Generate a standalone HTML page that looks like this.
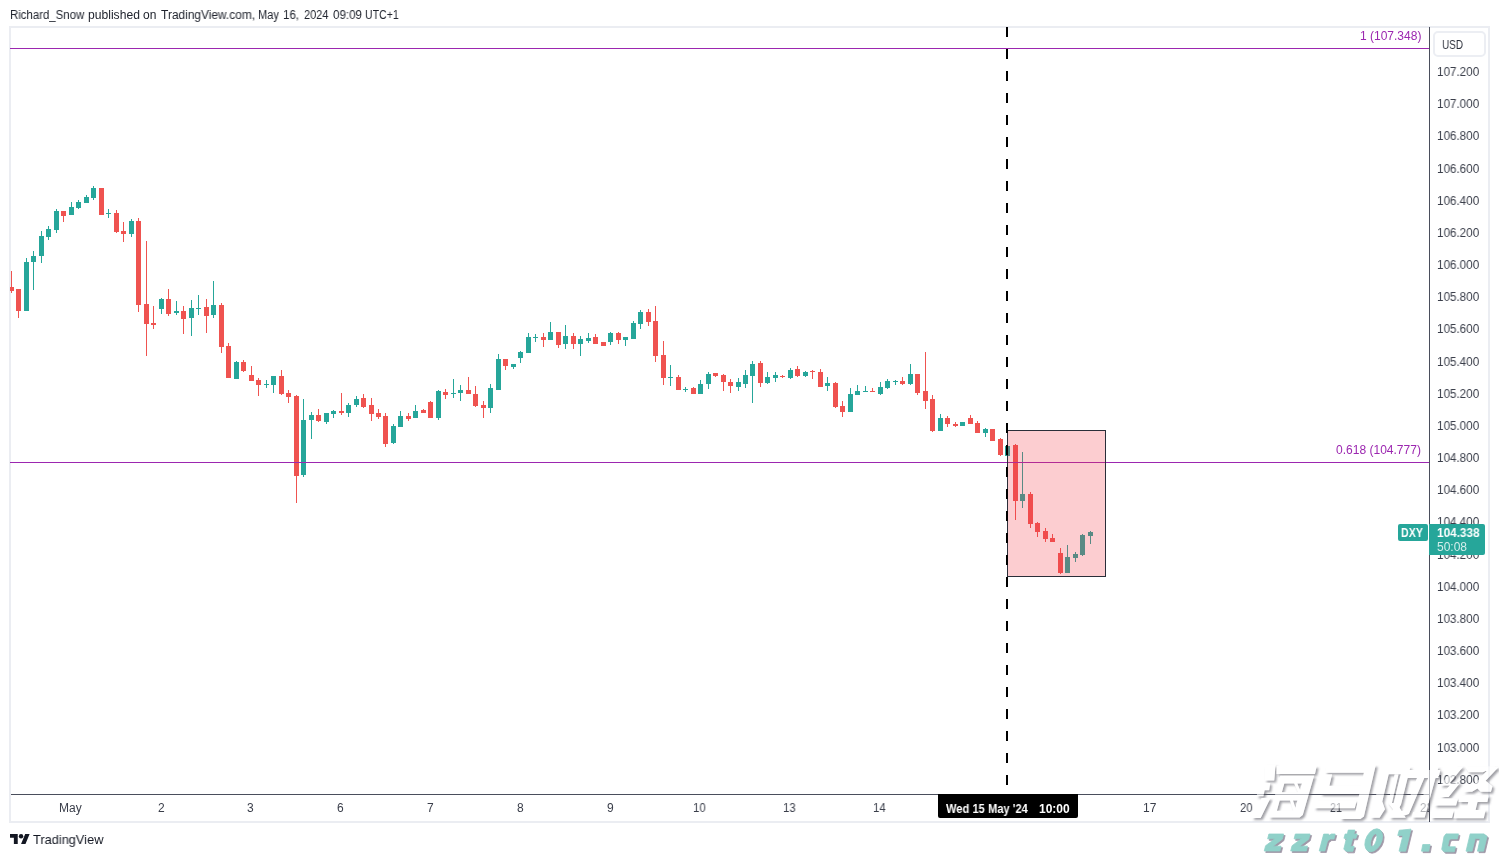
<!DOCTYPE html>
<html><head><meta charset="utf-8"><title>DXY chart</title>
<style>
html,body{margin:0;padding:0;background:#fff;}
body{width:1499px;height:857px;position:relative;overflow:hidden;font-family:"Liberation Sans",sans-serif;font-size:12px;color:#131722;}
.abs{position:absolute;}
.t{position:absolute;height:16px;line-height:16px;white-space:pre;transform-origin:0 0;will-change:transform;}
#frame{position:absolute;left:9px;top:26px;width:1477px;height:793px;border:2px solid #ebedf2;box-sizing:content-box;}
#svg{position:absolute;left:0;top:0;}
#usd{position:absolute;left:1433px;top:31px;width:48.5px;height:22px;border:2px solid #eceef3;border-radius:5px;background:#fff;}
#dxy{position:absolute;left:1398px;top:524px;width:30px;height:17px;background:#26a69a;border-radius:2px;}
#plab{position:absolute;left:1429px;top:524px;width:56px;height:31px;background:#26a69a;border-radius:0 2px 2px 0;}

.wz{position:absolute;font-size:33px;font-weight:bold;font-style:italic;line-height:40px;height:40px;color:#90d1c9;text-shadow:1.2px 1.2px 0.6px rgba(90,90,90,0.75);transform-origin:0 0;will-change:transform;white-space:pre;}
#tlab{position:absolute;left:938px;top:794px;width:140px;height:24px;background:#000;border-radius:0 0 2px 2px;}
</style></head><body>
<div id="frame"></div>
<svg id="svg" width="1499" height="857" viewBox="0 0 1499 857" shape-rendering="crispEdges">
<rect x="11" y="271" width="1" height="22" fill="#ef5350"/>
<rect x="10" y="287" width="4" height="4" fill="#ef5350"/>
<rect x="18" y="289" width="1" height="29" fill="#ef5350"/>
<rect x="16" y="289" width="5" height="22" fill="#ef5350"/>
<rect x="26" y="258" width="1" height="53" fill="#26a69a"/>
<rect x="24" y="262" width="5" height="49" fill="#26a69a"/>
<rect x="33" y="251" width="1" height="39" fill="#26a69a"/>
<rect x="31" y="256" width="5" height="6" fill="#26a69a"/>
<rect x="41" y="231" width="1" height="32" fill="#26a69a"/>
<rect x="39" y="236" width="5" height="20" fill="#26a69a"/>
<rect x="48" y="226" width="1" height="14" fill="#26a69a"/>
<rect x="46" y="229" width="5" height="8" fill="#26a69a"/>
<rect x="56" y="209" width="1" height="24" fill="#26a69a"/>
<rect x="54" y="211" width="5" height="19" fill="#26a69a"/>
<rect x="63" y="211" width="1" height="11" fill="#ef5350"/>
<rect x="61" y="211" width="5" height="5" fill="#ef5350"/>
<rect x="71" y="202" width="1" height="13" fill="#26a69a"/>
<rect x="69" y="207" width="5" height="8" fill="#26a69a"/>
<rect x="78" y="200" width="1" height="9" fill="#26a69a"/>
<rect x="76" y="202" width="5" height="6" fill="#26a69a"/>
<rect x="86" y="195" width="1" height="8" fill="#26a69a"/>
<rect x="84" y="197" width="5" height="6" fill="#26a69a"/>
<rect x="93" y="186" width="1" height="14" fill="#26a69a"/>
<rect x="91" y="188" width="5" height="10" fill="#26a69a"/>
<rect x="101" y="188" width="1" height="27" fill="#ef5350"/>
<rect x="99" y="188" width="5" height="27" fill="#ef5350"/>
<rect x="108" y="209" width="1" height="9" fill="#26a69a"/>
<rect x="106" y="213" width="5" height="1" fill="#26a69a"/>
<rect x="116" y="210" width="1" height="23" fill="#ef5350"/>
<rect x="114" y="213" width="5" height="19" fill="#ef5350"/>
<rect x="123" y="222" width="1" height="20" fill="#ef5350"/>
<rect x="121" y="231" width="5" height="3" fill="#ef5350"/>
<rect x="131" y="219" width="1" height="18" fill="#26a69a"/>
<rect x="129" y="221" width="5" height="13" fill="#26a69a"/>
<rect x="138" y="218" width="1" height="94" fill="#ef5350"/>
<rect x="136" y="221" width="5" height="84" fill="#ef5350"/>
<rect x="146" y="241" width="1" height="115" fill="#ef5350"/>
<rect x="144" y="304" width="5" height="20" fill="#ef5350"/>
<rect x="153" y="306" width="1" height="23" fill="#ef5350"/>
<rect x="151" y="323" width="5" height="2" fill="#ef5350"/>
<rect x="161" y="298" width="1" height="16" fill="#26a69a"/>
<rect x="159" y="299" width="5" height="10" fill="#26a69a"/>
<rect x="168" y="289" width="1" height="27" fill="#ef5350"/>
<rect x="166" y="299" width="5" height="15" fill="#ef5350"/>
<rect x="176" y="301" width="1" height="14" fill="#26a69a"/>
<rect x="174" y="311" width="5" height="2" fill="#26a69a"/>
<rect x="183" y="306" width="1" height="28" fill="#ef5350"/>
<rect x="181" y="311" width="5" height="8" fill="#ef5350"/>
<rect x="191" y="300" width="1" height="36" fill="#26a69a"/>
<rect x="189" y="308" width="5" height="10" fill="#26a69a"/>
<rect x="198" y="295" width="1" height="20" fill="#26a69a"/>
<rect x="196" y="308" width="5" height="1" fill="#26a69a"/>
<rect x="206" y="299" width="1" height="34" fill="#ef5350"/>
<rect x="204" y="307" width="5" height="9" fill="#ef5350"/>
<rect x="213" y="281" width="1" height="37" fill="#26a69a"/>
<rect x="211" y="305" width="5" height="10" fill="#26a69a"/>
<rect x="221" y="303" width="1" height="50" fill="#ef5350"/>
<rect x="219" y="305" width="5" height="42" fill="#ef5350"/>
<rect x="228" y="343" width="1" height="35" fill="#ef5350"/>
<rect x="226" y="346" width="5" height="32" fill="#ef5350"/>
<rect x="236" y="361" width="1" height="18" fill="#26a69a"/>
<rect x="234" y="362" width="5" height="17" fill="#26a69a"/>
<rect x="243" y="360" width="1" height="12" fill="#ef5350"/>
<rect x="241" y="362" width="5" height="9" fill="#ef5350"/>
<rect x="251" y="366" width="1" height="15" fill="#ef5350"/>
<rect x="249" y="375" width="5" height="6" fill="#ef5350"/>
<rect x="258" y="378" width="1" height="18" fill="#ef5350"/>
<rect x="256" y="380" width="5" height="5" fill="#ef5350"/>
<rect x="266" y="380" width="1" height="8" fill="#26a69a"/>
<rect x="264" y="384" width="5" height="1" fill="#26a69a"/>
<rect x="273" y="376" width="1" height="17" fill="#26a69a"/>
<rect x="271" y="376" width="5" height="9" fill="#26a69a"/>
<rect x="281" y="370" width="1" height="25" fill="#ef5350"/>
<rect x="279" y="376" width="5" height="18" fill="#ef5350"/>
<rect x="288" y="390" width="1" height="13" fill="#ef5350"/>
<rect x="286" y="393" width="5" height="4" fill="#ef5350"/>
<rect x="296" y="395" width="1" height="108" fill="#ef5350"/>
<rect x="294" y="396" width="5" height="80" fill="#ef5350"/>
<rect x="303" y="399" width="1" height="78" fill="#26a69a"/>
<rect x="301" y="420" width="5" height="55" fill="#26a69a"/>
<rect x="311" y="412" width="1" height="27" fill="#26a69a"/>
<rect x="309" y="415" width="5" height="5" fill="#26a69a"/>
<rect x="318" y="409" width="1" height="13" fill="#ef5350"/>
<rect x="316" y="415" width="5" height="6" fill="#ef5350"/>
<rect x="326" y="413" width="1" height="11" fill="#26a69a"/>
<rect x="324" y="413" width="5" height="9" fill="#26a69a"/>
<rect x="333" y="410" width="1" height="8" fill="#26a69a"/>
<rect x="331" y="411" width="5" height="3" fill="#26a69a"/>
<rect x="341" y="393" width="1" height="22" fill="#ef5350"/>
<rect x="339" y="411" width="5" height="2" fill="#ef5350"/>
<rect x="348" y="403" width="1" height="14" fill="#26a69a"/>
<rect x="346" y="405" width="5" height="8" fill="#26a69a"/>
<rect x="356" y="396" width="1" height="11" fill="#26a69a"/>
<rect x="354" y="399" width="5" height="6" fill="#26a69a"/>
<rect x="363" y="394" width="1" height="14" fill="#ef5350"/>
<rect x="361" y="398" width="5" height="9" fill="#ef5350"/>
<rect x="371" y="398" width="1" height="23" fill="#ef5350"/>
<rect x="369" y="405" width="5" height="9" fill="#ef5350"/>
<rect x="378" y="409" width="1" height="10" fill="#ef5350"/>
<rect x="376" y="413" width="5" height="4" fill="#ef5350"/>
<rect x="385" y="413" width="1" height="34" fill="#ef5350"/>
<rect x="383" y="416" width="5" height="28" fill="#ef5350"/>
<rect x="393" y="424" width="1" height="20" fill="#26a69a"/>
<rect x="391" y="426" width="5" height="17" fill="#26a69a"/>
<rect x="400" y="411" width="1" height="16" fill="#26a69a"/>
<rect x="398" y="416" width="5" height="11" fill="#26a69a"/>
<rect x="408" y="413" width="1" height="8" fill="#ef5350"/>
<rect x="406" y="416" width="5" height="3" fill="#ef5350"/>
<rect x="415" y="405" width="1" height="13" fill="#26a69a"/>
<rect x="413" y="411" width="5" height="7" fill="#26a69a"/>
<rect x="423" y="409" width="1" height="4" fill="#ef5350"/>
<rect x="421" y="410" width="5" height="3" fill="#ef5350"/>
<rect x="430" y="401" width="1" height="17" fill="#ef5350"/>
<rect x="428" y="402" width="5" height="16" fill="#ef5350"/>
<rect x="438" y="390" width="1" height="30" fill="#26a69a"/>
<rect x="436" y="391" width="5" height="27" fill="#26a69a"/>
<rect x="445" y="389" width="1" height="10" fill="#ef5350"/>
<rect x="443" y="392" width="5" height="3" fill="#ef5350"/>
<rect x="453" y="379" width="1" height="19" fill="#26a69a"/>
<rect x="451" y="393" width="5" height="1" fill="#26a69a"/>
<rect x="460" y="385" width="1" height="16" fill="#26a69a"/>
<rect x="458" y="390" width="5" height="3" fill="#26a69a"/>
<rect x="468" y="377" width="1" height="17" fill="#ef5350"/>
<rect x="466" y="390" width="5" height="4" fill="#ef5350"/>
<rect x="475" y="386" width="1" height="21" fill="#ef5350"/>
<rect x="473" y="394" width="5" height="12" fill="#ef5350"/>
<rect x="483" y="401" width="1" height="17" fill="#ef5350"/>
<rect x="481" y="405" width="5" height="3" fill="#ef5350"/>
<rect x="490" y="384" width="1" height="29" fill="#26a69a"/>
<rect x="488" y="388" width="5" height="20" fill="#26a69a"/>
<rect x="498" y="354" width="1" height="36" fill="#26a69a"/>
<rect x="496" y="359" width="5" height="31" fill="#26a69a"/>
<rect x="505" y="359" width="1" height="11" fill="#ef5350"/>
<rect x="503" y="359" width="5" height="7" fill="#ef5350"/>
<rect x="513" y="364" width="1" height="5" fill="#26a69a"/>
<rect x="511" y="364" width="5" height="3" fill="#26a69a"/>
<rect x="520" y="351" width="1" height="12" fill="#26a69a"/>
<rect x="518" y="352" width="5" height="6" fill="#26a69a"/>
<rect x="528" y="333" width="1" height="20" fill="#26a69a"/>
<rect x="526" y="337" width="5" height="16" fill="#26a69a"/>
<rect x="535" y="334" width="1" height="8" fill="#26a69a"/>
<rect x="533" y="337" width="5" height="1" fill="#26a69a"/>
<rect x="543" y="333" width="1" height="14" fill="#ef5350"/>
<rect x="541" y="337" width="5" height="3" fill="#ef5350"/>
<rect x="550" y="322" width="1" height="18" fill="#26a69a"/>
<rect x="548" y="332" width="5" height="8" fill="#26a69a"/>
<rect x="558" y="332" width="1" height="16" fill="#ef5350"/>
<rect x="556" y="332" width="5" height="13" fill="#ef5350"/>
<rect x="565" y="325" width="1" height="24" fill="#26a69a"/>
<rect x="563" y="336" width="5" height="8" fill="#26a69a"/>
<rect x="573" y="333" width="1" height="16" fill="#ef5350"/>
<rect x="571" y="336" width="5" height="8" fill="#ef5350"/>
<rect x="580" y="336" width="1" height="20" fill="#26a69a"/>
<rect x="578" y="339" width="5" height="5" fill="#26a69a"/>
<rect x="588" y="333" width="1" height="10" fill="#26a69a"/>
<rect x="586" y="338" width="5" height="3" fill="#26a69a"/>
<rect x="595" y="334" width="1" height="10" fill="#ef5350"/>
<rect x="593" y="337" width="5" height="7" fill="#ef5350"/>
<rect x="603" y="342" width="1" height="4" fill="#ef5350"/>
<rect x="601" y="342" width="5" height="4" fill="#ef5350"/>
<rect x="610" y="332" width="1" height="13" fill="#26a69a"/>
<rect x="608" y="333" width="5" height="9" fill="#26a69a"/>
<rect x="618" y="332" width="1" height="12" fill="#ef5350"/>
<rect x="616" y="333" width="5" height="7" fill="#ef5350"/>
<rect x="625" y="337" width="1" height="9" fill="#26a69a"/>
<rect x="623" y="337" width="5" height="3" fill="#26a69a"/>
<rect x="633" y="321" width="1" height="18" fill="#26a69a"/>
<rect x="631" y="323" width="5" height="16" fill="#26a69a"/>
<rect x="640" y="310" width="1" height="19" fill="#26a69a"/>
<rect x="638" y="312" width="5" height="12" fill="#26a69a"/>
<rect x="648" y="309" width="1" height="17" fill="#ef5350"/>
<rect x="646" y="312" width="5" height="10" fill="#ef5350"/>
<rect x="655" y="306" width="1" height="56" fill="#ef5350"/>
<rect x="653" y="321" width="5" height="35" fill="#ef5350"/>
<rect x="663" y="341" width="1" height="44" fill="#ef5350"/>
<rect x="661" y="355" width="5" height="23" fill="#ef5350"/>
<rect x="670" y="365" width="1" height="21" fill="#26a69a"/>
<rect x="668" y="377" width="5" height="1" fill="#26a69a"/>
<rect x="678" y="375" width="1" height="15" fill="#ef5350"/>
<rect x="676" y="377" width="5" height="13" fill="#ef5350"/>
<rect x="685" y="387" width="1" height="5" fill="#26a69a"/>
<rect x="683" y="389" width="5" height="1" fill="#26a69a"/>
<rect x="693" y="387" width="1" height="7" fill="#ef5350"/>
<rect x="691" y="388" width="5" height="6" fill="#ef5350"/>
<rect x="700" y="380" width="1" height="14" fill="#26a69a"/>
<rect x="698" y="384" width="5" height="10" fill="#26a69a"/>
<rect x="708" y="372" width="1" height="17" fill="#26a69a"/>
<rect x="706" y="374" width="5" height="10" fill="#26a69a"/>
<rect x="715" y="373" width="1" height="4" fill="#ef5350"/>
<rect x="713" y="373" width="5" height="3" fill="#ef5350"/>
<rect x="723" y="374" width="1" height="17" fill="#ef5350"/>
<rect x="721" y="375" width="5" height="7" fill="#ef5350"/>
<rect x="730" y="379" width="1" height="14" fill="#ef5350"/>
<rect x="728" y="382" width="5" height="4" fill="#ef5350"/>
<rect x="738" y="378" width="1" height="13" fill="#26a69a"/>
<rect x="736" y="382" width="5" height="5" fill="#26a69a"/>
<rect x="745" y="370" width="1" height="18" fill="#26a69a"/>
<rect x="743" y="375" width="5" height="9" fill="#26a69a"/>
<rect x="752" y="361" width="1" height="42" fill="#26a69a"/>
<rect x="750" y="364" width="5" height="12" fill="#26a69a"/>
<rect x="760" y="361" width="1" height="26" fill="#ef5350"/>
<rect x="758" y="363" width="5" height="20" fill="#ef5350"/>
<rect x="767" y="372" width="1" height="12" fill="#26a69a"/>
<rect x="765" y="377" width="5" height="6" fill="#26a69a"/>
<rect x="775" y="372" width="1" height="10" fill="#26a69a"/>
<rect x="773" y="375" width="5" height="3" fill="#26a69a"/>
<rect x="782" y="375" width="1" height="3" fill="#ef5350"/>
<rect x="780" y="376" width="5" height="1" fill="#ef5350"/>
<rect x="790" y="368" width="1" height="11" fill="#26a69a"/>
<rect x="788" y="370" width="5" height="8" fill="#26a69a"/>
<rect x="797" y="366" width="1" height="11" fill="#ef5350"/>
<rect x="795" y="369" width="5" height="7" fill="#ef5350"/>
<rect x="805" y="371" width="1" height="6" fill="#26a69a"/>
<rect x="803" y="372" width="5" height="4" fill="#26a69a"/>
<rect x="812" y="370" width="1" height="9" fill="#ef5350"/>
<rect x="810" y="371" width="5" height="1" fill="#ef5350"/>
<rect x="820" y="369" width="1" height="18" fill="#ef5350"/>
<rect x="818" y="372" width="5" height="15" fill="#ef5350"/>
<rect x="827" y="377" width="1" height="14" fill="#26a69a"/>
<rect x="825" y="383" width="5" height="3" fill="#26a69a"/>
<rect x="835" y="382" width="1" height="26" fill="#ef5350"/>
<rect x="833" y="383" width="5" height="24" fill="#ef5350"/>
<rect x="842" y="401" width="1" height="16" fill="#ef5350"/>
<rect x="840" y="406" width="5" height="6" fill="#ef5350"/>
<rect x="850" y="388" width="1" height="24" fill="#26a69a"/>
<rect x="848" y="394" width="5" height="18" fill="#26a69a"/>
<rect x="857" y="385" width="1" height="10" fill="#26a69a"/>
<rect x="855" y="391" width="5" height="4" fill="#26a69a"/>
<rect x="865" y="386" width="1" height="6" fill="#26a69a"/>
<rect x="863" y="391" width="5" height="1" fill="#26a69a"/>
<rect x="872" y="388" width="1" height="4" fill="#ef5350"/>
<rect x="870" y="391" width="5" height="1" fill="#ef5350"/>
<rect x="880" y="382" width="1" height="13" fill="#26a69a"/>
<rect x="878" y="387" width="5" height="7" fill="#26a69a"/>
<rect x="887" y="379" width="1" height="10" fill="#26a69a"/>
<rect x="885" y="381" width="5" height="7" fill="#26a69a"/>
<rect x="895" y="380" width="1" height="5" fill="#26a69a"/>
<rect x="893" y="381" width="5" height="1" fill="#26a69a"/>
<rect x="902" y="377" width="1" height="8" fill="#ef5350"/>
<rect x="900" y="381" width="5" height="3" fill="#ef5350"/>
<rect x="910" y="364" width="1" height="21" fill="#26a69a"/>
<rect x="908" y="374" width="5" height="10" fill="#26a69a"/>
<rect x="917" y="374" width="1" height="21" fill="#ef5350"/>
<rect x="915" y="374" width="5" height="19" fill="#ef5350"/>
<rect x="925" y="352" width="1" height="57" fill="#ef5350"/>
<rect x="923" y="391" width="5" height="10" fill="#ef5350"/>
<rect x="932" y="395" width="1" height="37" fill="#ef5350"/>
<rect x="930" y="399" width="5" height="32" fill="#ef5350"/>
<rect x="940" y="414" width="1" height="17" fill="#26a69a"/>
<rect x="938" y="418" width="5" height="13" fill="#26a69a"/>
<rect x="947" y="416" width="1" height="11" fill="#ef5350"/>
<rect x="945" y="418" width="5" height="6" fill="#ef5350"/>
<rect x="955" y="422" width="1" height="5" fill="#ef5350"/>
<rect x="953" y="424" width="5" height="2" fill="#ef5350"/>
<rect x="962" y="422" width="1" height="4" fill="#26a69a"/>
<rect x="960" y="422" width="5" height="4" fill="#26a69a"/>
<rect x="970" y="415" width="1" height="9" fill="#ef5350"/>
<rect x="968" y="418" width="5" height="6" fill="#ef5350"/>
<rect x="977" y="421" width="1" height="12" fill="#ef5350"/>
<rect x="975" y="423" width="5" height="10" fill="#ef5350"/>
<rect x="985" y="428" width="1" height="9" fill="#26a69a"/>
<rect x="983" y="429" width="5" height="4" fill="#26a69a"/>
<rect x="992" y="429" width="1" height="12" fill="#ef5350"/>
<rect x="990" y="429" width="5" height="12" fill="#ef5350"/>
<rect x="1000" y="438" width="1" height="18" fill="#ef5350"/>
<rect x="998" y="439" width="5" height="16" fill="#ef5350"/>
<rect x="1007" y="446" width="1" height="10" fill="#26a69a"/>
<rect x="1005" y="446" width="5" height="10" fill="#26a69a"/>
<rect x="1015" y="444" width="1" height="76" fill="#ef5350"/>
<rect x="1013" y="445" width="5" height="56" fill="#ef5350"/>
<rect x="1022" y="452" width="1" height="56" fill="#26a69a"/>
<rect x="1020" y="494" width="5" height="7" fill="#26a69a"/>
<rect x="1030" y="492" width="1" height="36" fill="#ef5350"/>
<rect x="1028" y="494" width="5" height="30" fill="#ef5350"/>
<rect x="1037" y="522" width="1" height="15" fill="#ef5350"/>
<rect x="1035" y="523" width="5" height="9" fill="#ef5350"/>
<rect x="1045" y="528" width="1" height="14" fill="#ef5350"/>
<rect x="1043" y="531" width="5" height="8" fill="#ef5350"/>
<rect x="1052" y="534" width="1" height="8" fill="#ef5350"/>
<rect x="1050" y="538" width="5" height="4" fill="#ef5350"/>
<rect x="1060" y="548" width="1" height="26" fill="#ef5350"/>
<rect x="1058" y="553" width="5" height="20" fill="#ef5350"/>
<rect x="1067" y="545" width="1" height="28" fill="#26a69a"/>
<rect x="1065" y="557" width="5" height="16" fill="#26a69a"/>
<rect x="1075" y="552" width="1" height="10" fill="#26a69a"/>
<rect x="1073" y="554" width="5" height="4" fill="#26a69a"/>
<rect x="1082" y="534" width="1" height="22" fill="#26a69a"/>
<rect x="1080" y="535" width="5" height="20" fill="#26a69a"/>
<rect x="1090" y="531" width="1" height="13" fill="#26a69a"/>
<rect x="1088" y="532" width="5" height="4" fill="#26a69a"/>
<rect x="10" y="48" width="1419" height="1" fill="#9c27b0"/>
<rect x="10" y="462" width="1419" height="1" fill="#9c27b0"/>
<rect x="1007.5" y="430.5" width="98" height="146" fill="rgba(242,54,69,0.25)" stroke="#2a2e39" stroke-width="1"/>
<rect x="1006" y="27" width="2" height="10" fill="#000"/>
<rect x="1006" y="49" width="2" height="10" fill="#000"/>
<rect x="1006" y="71" width="2" height="10" fill="#000"/>
<rect x="1006" y="93" width="2" height="10" fill="#000"/>
<rect x="1006" y="115" width="2" height="10" fill="#000"/>
<rect x="1006" y="137" width="2" height="10" fill="#000"/>
<rect x="1006" y="159" width="2" height="10" fill="#000"/>
<rect x="1006" y="181" width="2" height="10" fill="#000"/>
<rect x="1006" y="203" width="2" height="10" fill="#000"/>
<rect x="1006" y="225" width="2" height="10" fill="#000"/>
<rect x="1006" y="247" width="2" height="10" fill="#000"/>
<rect x="1006" y="269" width="2" height="10" fill="#000"/>
<rect x="1006" y="291" width="2" height="10" fill="#000"/>
<rect x="1006" y="313" width="2" height="10" fill="#000"/>
<rect x="1006" y="335" width="2" height="10" fill="#000"/>
<rect x="1006" y="357" width="2" height="10" fill="#000"/>
<rect x="1006" y="379" width="2" height="10" fill="#000"/>
<rect x="1006" y="401" width="2" height="10" fill="#000"/>
<rect x="1006" y="423" width="2" height="10" fill="#000"/>
<rect x="1006" y="445" width="2" height="10" fill="#000"/>
<rect x="1006" y="467" width="2" height="10" fill="#000"/>
<rect x="1006" y="489" width="2" height="10" fill="#000"/>
<rect x="1006" y="511" width="2" height="10" fill="#000"/>
<rect x="1006" y="533" width="2" height="10" fill="#000"/>
<rect x="1006" y="555" width="2" height="10" fill="#000"/>
<rect x="1006" y="577" width="2" height="10" fill="#000"/>
<rect x="1006" y="599" width="2" height="10" fill="#000"/>
<rect x="1006" y="621" width="2" height="10" fill="#000"/>
<rect x="1006" y="643" width="2" height="10" fill="#000"/>
<rect x="1006" y="665" width="2" height="10" fill="#000"/>
<rect x="1006" y="687" width="2" height="10" fill="#000"/>
<rect x="1006" y="709" width="2" height="10" fill="#000"/>
<rect x="1006" y="731" width="2" height="10" fill="#000"/>
<rect x="1006" y="753" width="2" height="10" fill="#000"/>
<rect x="1006" y="775" width="2" height="10" fill="#000"/>
<rect x="1429" y="27" width="1" height="795" fill="#4a4e5c"/>
<rect x="11" y="794" width="1419" height="1" fill="#4a4e5c"/>
</svg>
<div class="t" style="left:1437.07px;top:64.00px;font-size:12px;font-weight:normal;color:#3a3e4a;transform:scaleX(0.9728);">107.200</div>
<div class="t" style="left:1437.07px;top:96.17px;font-size:12px;font-weight:normal;color:#3a3e4a;transform:scaleX(0.9728);">107.000</div>
<div class="t" style="left:1437.07px;top:128.34px;font-size:12px;font-weight:normal;color:#3a3e4a;transform:scaleX(0.9728);">106.800</div>
<div class="t" style="left:1437.07px;top:160.51px;font-size:12px;font-weight:normal;color:#3a3e4a;transform:scaleX(0.9728);">106.600</div>
<div class="t" style="left:1437.07px;top:192.68px;font-size:12px;font-weight:normal;color:#3a3e4a;transform:scaleX(0.9728);">106.400</div>
<div class="t" style="left:1437.07px;top:224.85px;font-size:12px;font-weight:normal;color:#3a3e4a;transform:scaleX(0.9728);">106.200</div>
<div class="t" style="left:1437.07px;top:257.02px;font-size:12px;font-weight:normal;color:#3a3e4a;transform:scaleX(0.9728);">106.000</div>
<div class="t" style="left:1437.07px;top:289.19px;font-size:12px;font-weight:normal;color:#3a3e4a;transform:scaleX(0.9728);">105.800</div>
<div class="t" style="left:1437.07px;top:321.36px;font-size:12px;font-weight:normal;color:#3a3e4a;transform:scaleX(0.9728);">105.600</div>
<div class="t" style="left:1437.07px;top:353.53px;font-size:12px;font-weight:normal;color:#3a3e4a;transform:scaleX(0.9728);">105.400</div>
<div class="t" style="left:1437.07px;top:385.70px;font-size:12px;font-weight:normal;color:#3a3e4a;transform:scaleX(0.9728);">105.200</div>
<div class="t" style="left:1437.07px;top:417.87px;font-size:12px;font-weight:normal;color:#3a3e4a;transform:scaleX(0.9728);">105.000</div>
<div class="t" style="left:1437.07px;top:450.04px;font-size:12px;font-weight:normal;color:#3a3e4a;transform:scaleX(0.9728);">104.800</div>
<div class="t" style="left:1437.07px;top:482.21px;font-size:12px;font-weight:normal;color:#3a3e4a;transform:scaleX(0.9728);">104.600</div>
<div class="t" style="left:1437.07px;top:514.38px;font-size:12px;font-weight:normal;color:#3a3e4a;transform:scaleX(0.9728);">104.400</div>
<div class="t" style="left:1437.07px;top:546.55px;font-size:12px;font-weight:normal;color:#3a3e4a;transform:scaleX(0.9728);">104.200</div>
<div class="t" style="left:1437.07px;top:578.72px;font-size:12px;font-weight:normal;color:#3a3e4a;transform:scaleX(0.9728);">104.000</div>
<div class="t" style="left:1437.07px;top:610.89px;font-size:12px;font-weight:normal;color:#3a3e4a;transform:scaleX(0.9728);">103.800</div>
<div class="t" style="left:1437.07px;top:643.06px;font-size:12px;font-weight:normal;color:#3a3e4a;transform:scaleX(0.9728);">103.600</div>
<div class="t" style="left:1437.07px;top:675.23px;font-size:12px;font-weight:normal;color:#3a3e4a;transform:scaleX(0.9728);">103.400</div>
<div class="t" style="left:1437.07px;top:707.40px;font-size:12px;font-weight:normal;color:#3a3e4a;transform:scaleX(0.9728);">103.200</div>
<div class="t" style="left:1437.07px;top:739.57px;font-size:12px;font-weight:normal;color:#3a3e4a;transform:scaleX(0.9728);">103.000</div>
<div class="t" style="left:1437.07px;top:771.74px;font-size:12px;font-weight:normal;color:#3a3e4a;transform:scaleX(0.9728);">102.800</div>
<div style="position:absolute;left:0;top:0;width:1429px;height:857px;overflow:hidden">
<div class="t" style="left:59.01px;top:799.70px;font-size:12px;font-weight:normal;color:#3a3e4a;transform:scaleX(0.9931);">May</div>
<div class="t" style="left:157.71px;top:799.70px;font-size:12px;font-weight:normal;color:#3a3e4a;transform:scaleX(0.9739);">2</div>
<div class="t" style="left:247.42px;top:799.70px;font-size:12px;font-weight:normal;color:#3a3e4a;transform:scaleX(0.9565);">3</div>
<div class="t" style="left:337.21px;top:799.70px;font-size:12px;font-weight:normal;color:#3a3e4a;transform:scaleX(0.9739);">6</div>
<div class="t" style="left:427.12px;top:799.70px;font-size:12px;font-weight:normal;color:#3a3e4a;transform:scaleX(0.9565);">7</div>
<div class="t" style="left:516.91px;top:799.70px;font-size:12px;font-weight:normal;color:#3a3e4a;transform:scaleX(0.9739);">8</div>
<div class="t" style="left:606.81px;top:799.70px;font-size:12px;font-weight:normal;color:#3a3e4a;transform:scaleX(0.9739);">9</div>
<div class="t" style="left:693.49px;top:799.70px;font-size:12px;font-weight:normal;color:#3a3e4a;transform:scaleX(0.9469);">10</div>
<div class="t" style="left:783.29px;top:799.70px;font-size:12px;font-weight:normal;color:#3a3e4a;transform:scaleX(0.9469);">13</div>
<div class="t" style="left:873.19px;top:799.70px;font-size:12px;font-weight:normal;color:#3a3e4a;transform:scaleX(0.9469);">14</div>
<div class="t" style="left:1143.27px;top:799.70px;font-size:12px;font-weight:normal;color:#3a3e4a;transform:scaleX(0.9750);">17</div>
<div class="t" style="left:1240.43px;top:799.70px;font-size:12px;font-weight:normal;color:#3a3e4a;transform:scaleX(0.9360);">20</div>
<div class="t" style="left:1329.96px;top:799.70px;font-size:12px;font-weight:normal;color:#3a3e4a;transform:scaleX(0.8880);">21</div>
<div class="t" style="left:1419.83px;top:799.70px;font-size:12px;font-weight:normal;color:#3a3e4a;transform:scaleX(0.9469);">22</div>
</div>
<div id="usd"></div>
<div id="dxy"></div>
<div id="plab"></div>
<div id="tlab"></div>
<div class="t" style="left:9.95px;top:7.00px;font-size:12px;font-weight:normal;color:#20242e;transform:scaleX(0.9506);">Richard_Snow</div>
<div class="t" style="left:87.74px;top:7.00px;font-size:12px;font-weight:normal;color:#20242e;transform:scaleX(1.0100);">published</div>
<div class="t" style="left:143.10px;top:7.00px;font-size:12px;font-weight:normal;color:#20242e;transform:scaleX(0.9959);">on</div>
<div class="t" style="left:160.55px;top:7.00px;font-size:12px;font-weight:normal;color:#20242e;transform:scaleX(0.9925);">TradingView.com,</div>
<div class="t" style="left:257.68px;top:7.00px;font-size:12px;font-weight:normal;color:#20242e;transform:scaleX(0.9195);">May</div>
<div class="t" style="left:283.48px;top:7.00px;font-size:12px;font-weight:normal;color:#20242e;transform:scaleX(0.9600);">16,</div>
<div class="t" style="left:303.94px;top:7.00px;font-size:12px;font-weight:normal;color:#20242e;transform:scaleX(0.9154);">2024</div>
<div class="t" style="left:332.62px;top:7.00px;font-size:12px;font-weight:normal;color:#20242e;transform:scaleX(0.9655);">09:09</div>
<div class="t" style="left:365.34px;top:7.00px;font-size:12px;font-weight:normal;color:#20242e;transform:scaleX(0.8779);">UTC+1</div>
<div class="t" style="left:1441.88px;top:37.00px;font-size:12px;font-weight:normal;color:#2a2e39;transform:scaleX(0.8247);">USD</div>
<div class="t" style="left:1359.95px;top:28.00px;font-size:12px;font-weight:normal;color:#9c27b0;transform:scaleX(0.9950);">1 (107.348)</div>
<div class="t" style="left:1336.20px;top:442.00px;font-size:12px;font-weight:normal;color:#9c27b0;transform:scaleX(1.0024);">0.618 (104.777)</div>
<div class="t" style="left:1401.33px;top:524.90px;font-size:12px;font-weight:bold;color:#ffffff;transform:scaleX(0.8884);">DXY</div>
<div class="t" style="left:1436.86px;top:524.90px;font-size:12px;font-weight:bold;color:#ffffff;transform:scaleX(0.9822);">104.338</div>
<div class="t" style="left:1436.80px;top:539.10px;font-size:12px;font-weight:normal;color:rgba(255,255,255,0.8);transform:scaleX(0.9949);">50:08</div>
<div class="t" style="left:946.20px;top:801.00px;font-size:12px;font-weight:bold;color:#ffffff;transform:scaleX(0.9295);">Wed 15 May &#x27;24</div>
<div class="t" style="left:1038.76px;top:801.00px;font-size:12px;font-weight:bold;color:#ffffff;transform:scaleX(0.9932);">10:00</div>
<div class="t" style="left:32.95px;top:831.80px;font-size:13px;font-weight:normal;color:#131722;transform:scaleX(0.9839);">TradingView</div>
<svg class="abs" style="left:10px;top:834px" width="19.9" height="9.94" viewBox="0 4 36 18"><path fill="#131722" d="M14 22H7V11H0V4h14v18zM28 22h-8l7.5-18h8L28 22z"/><circle cx="20" cy="8" r="4" fill="#131722"/></svg>
<svg class="abs" style="left:0;top:0" width="1499" height="857" viewBox="0 0 1499 857"><defs><filter id="ds" x="-5%" y="-5%" width="110%" height="115%"><feGaussianBlur in="SourceAlpha" stdDeviation="0.85" result="b"/><feOffset in="b" dx="1.9" dy="1.9" result="o"/><feComposite in="o" in2="SourceAlpha" operator="out" result="sh"/><feFlood flood-color="#55555f" flood-opacity="0.55"/><feComposite in2="sh" operator="in"/></filter></defs><path filter="url(#ds)" fill="#000" fill-rule="nonzero" d="M1264.3 764.8 L1275.6 764.8 L1274.3 780.4 L1264.8 780.4Z M1276.6 766.0 L1316.7 766.0 L1315.0 774.1 L1276.6 774.1Z M1259.5 782.9 L1270.2 782.9 L1269.2 790.2 L1264.6 790.2 L1263.4 796.2 L1256.5 796.2Z M1261.7 797.9 L1270.5 797.9 L1260.7 817.9 L1251.5 817.9Z M1280.3 775.8 L1314.1 775.8 L1302.8 815.0 L1299.6 817.4 L1268.8 817.4Z M1294.2 783.5 L1297.3 783.5 L1301.1 792.3 L1298.0 792.3Z M1290.0 800.4 L1293.0 800.4 L1296.3 810.8 L1293.3 810.8Z M1281.9 792.3 L1299.4 792.3 L1301.9 783.5 L1284.3 783.5Z M1276.9 810.8 L1294.6 810.8 L1297.4 800.4 L1279.7 800.4Z M1325.8 765.0 L1375.8 765.0 L1363.9 816.6 L1360.4 818.9 L1340.4 818.9 L1341.2 812.3 L1355.4 812.3 L1363.9 772.7 L1325.0 772.7Z M1325.0 774.6 L1332.1 774.6 L1329.4 785.8 L1322.3 785.8Z M1322.3 785.8 L1361.2 785.8 L1359.3 793.9 L1320.4 793.9Z M1315.8 800.8 L1356.6 800.8 L1354.8 808.3 L1314.0 808.3Z M1382.7 766.9 L1410.4 766.9 L1400.8 805.4 L1393.1 805.4 L1400.8 774.2 L1388.7 774.2 L1382.3 801.6 L1374.6 801.6Z M1394.6 774.6 L1398.5 774.6 L1391.9 803.1 L1388.1 803.1Z M1374.6 801.6 L1382.3 801.6 L1385.0 809.3 L1379.6 817.7 L1370.4 817.7Z M1388.1 803.1 L1400.8 803.1 L1399.6 807.7 L1405.8 817.7 L1389.2 817.7 L1393.1 809.3Z M1408.9 770.0 L1440.4 770.0 L1438.5 778.1 L1406.9 778.1Z M1431.2 766.9 L1438.5 766.9 L1424.7 817.4 L1412.0 817.4 L1413.1 812.3 L1418.5 812.3Z M1417.0 778.1 L1424.3 778.1 L1408.9 813.9 L1398.1 817.7 L1397.3 813.9 L1405.0 809.3Z M1455.2 766.5 L1463.3 766.5 L1449.8 783.1 L1460.6 782.3 L1448.6 797.0 L1439.8 797.0 L1449.8 785.4 L1439.8 785.4Z M1436.3 798.5 L1457.9 798.5 L1456.1 805.4 L1434.4 805.4Z M1432.9 810.8 L1453.6 810.8 L1452.1 818.1 L1430.9 818.1Z M1465.2 766.2 L1496.0 766.2 L1482.9 772.3 L1468.3 772.3Z M1490.6 766.9 L1498.7 766.9 L1485.6 780.8 L1492.5 786.2 L1491.0 791.7 L1480.6 791.7 L1477.5 788.6 L1472.1 791.7 L1462.9 791.7 L1477.5 780.8Z M1460.2 795.4 L1488.7 795.4 L1487.4 802.0 L1477.5 802.0 L1475.6 810.0 L1485.6 810.0 L1483.8 818.3 L1453.6 818.3 L1455.2 810.0 L1466.7 810.0 L1468.3 802.0 L1458.6 802.0Z"/><path fill="#fff" fill-opacity="0.6" fill-rule="nonzero" d="M1264.3 764.8 L1275.6 764.8 L1274.3 780.4 L1264.8 780.4Z M1276.6 766.0 L1316.7 766.0 L1315.0 774.1 L1276.6 774.1Z M1259.5 782.9 L1270.2 782.9 L1269.2 790.2 L1264.6 790.2 L1263.4 796.2 L1256.5 796.2Z M1261.7 797.9 L1270.5 797.9 L1260.7 817.9 L1251.5 817.9Z M1280.3 775.8 L1314.1 775.8 L1302.8 815.0 L1299.6 817.4 L1268.8 817.4Z M1294.2 783.5 L1297.3 783.5 L1301.1 792.3 L1298.0 792.3Z M1290.0 800.4 L1293.0 800.4 L1296.3 810.8 L1293.3 810.8Z M1281.9 792.3 L1299.4 792.3 L1301.9 783.5 L1284.3 783.5Z M1276.9 810.8 L1294.6 810.8 L1297.4 800.4 L1279.7 800.4Z M1325.8 765.0 L1375.8 765.0 L1363.9 816.6 L1360.4 818.9 L1340.4 818.9 L1341.2 812.3 L1355.4 812.3 L1363.9 772.7 L1325.0 772.7Z M1325.0 774.6 L1332.1 774.6 L1329.4 785.8 L1322.3 785.8Z M1322.3 785.8 L1361.2 785.8 L1359.3 793.9 L1320.4 793.9Z M1315.8 800.8 L1356.6 800.8 L1354.8 808.3 L1314.0 808.3Z M1382.7 766.9 L1410.4 766.9 L1400.8 805.4 L1393.1 805.4 L1400.8 774.2 L1388.7 774.2 L1382.3 801.6 L1374.6 801.6Z M1394.6 774.6 L1398.5 774.6 L1391.9 803.1 L1388.1 803.1Z M1374.6 801.6 L1382.3 801.6 L1385.0 809.3 L1379.6 817.7 L1370.4 817.7Z M1388.1 803.1 L1400.8 803.1 L1399.6 807.7 L1405.8 817.7 L1389.2 817.7 L1393.1 809.3Z M1408.9 770.0 L1440.4 770.0 L1438.5 778.1 L1406.9 778.1Z M1431.2 766.9 L1438.5 766.9 L1424.7 817.4 L1412.0 817.4 L1413.1 812.3 L1418.5 812.3Z M1417.0 778.1 L1424.3 778.1 L1408.9 813.9 L1398.1 817.7 L1397.3 813.9 L1405.0 809.3Z M1455.2 766.5 L1463.3 766.5 L1449.8 783.1 L1460.6 782.3 L1448.6 797.0 L1439.8 797.0 L1449.8 785.4 L1439.8 785.4Z M1436.3 798.5 L1457.9 798.5 L1456.1 805.4 L1434.4 805.4Z M1432.9 810.8 L1453.6 810.8 L1452.1 818.1 L1430.9 818.1Z M1465.2 766.2 L1496.0 766.2 L1482.9 772.3 L1468.3 772.3Z M1490.6 766.9 L1498.7 766.9 L1485.6 780.8 L1492.5 786.2 L1491.0 791.7 L1480.6 791.7 L1477.5 788.6 L1472.1 791.7 L1462.9 791.7 L1477.5 780.8Z M1460.2 795.4 L1488.7 795.4 L1487.4 802.0 L1477.5 802.0 L1475.6 810.0 L1485.6 810.0 L1483.8 818.3 L1453.6 818.3 L1455.2 810.0 L1466.7 810.0 L1468.3 802.0 L1458.6 802.0Z"/></svg>
<svg class="abs" style="left:0;top:0" width="1499" height="857" viewBox="0 0 1499 857"><g transform="translate(1.5 1.5)" fill="#9a93a3" stroke="#9a93a3" stroke-width="0.8" stroke-linejoin="round" opacity="0.95"><path d="M1268.90 834.01 L1283.65 834.01 L1282.31 839.19 L1273.01 846.16 L1281.06 846.16 L1279.89 850.99 L1264.26 850.99 L1265.60 845.72 L1274.98 838.83 L1267.65 838.83Z M1295.35 834.01 L1310.10 834.01 L1308.76 839.19 L1299.47 846.16 L1307.51 846.16 L1306.35 850.99 L1290.71 850.99 L1292.05 845.72 L1301.43 838.83 L1294.10 838.83Z M1323.68 834.10 L1328.78 834.10 L1328.42 835.80 L1331.46 834.01 L1335.21 834.01 L1333.96 839.01 L1330.21 839.01 L1327.53 840.98 L1324.85 850.99 L1319.22 850.99Z M1348.26 830.08 L1354.96 830.08 L1353.89 834.01 L1357.20 834.01 L1356.03 838.30 L1352.73 838.30 L1350.58 846.34 L1354.16 846.34 L1352.91 851.35 L1346.65 851.35 L1343.79 849.20 L1346.47 838.30 L1343.97 838.30 L1345.13 834.01 L1347.37 834.01Z M1399.22 830.24 L1411.01 829.17 L1405.68 851.15 L1399.07 851.15 L1402.95 835.41 L1397.78 835.41Z M1422.79 844.53 L1430.02 844.53 L1428.80 851.15 L1421.50 851.15Z M1445.99 833.89 L1458.46 833.89 L1457.32 838.90 L1450.55 838.90 L1449.03 840.43 L1447.89 845.60 L1449.03 846.81 L1455.42 846.81 L1454.28 851.83 L1444.01 851.83 L1441.73 849.25 L1444.01 836.62Z M1470.17 833.89 L1483.86 833.89 L1487.05 836.32 L1483.56 851.15 L1477.47 851.15 L1480.06 839.51 L1478.99 838.60 L1475.19 838.60 L1472.15 851.15 L1466.06 851.15Z"/><path transform="translate(1373.73 840.26) skewX(-15)" d="M-8.31 0 a8.31 11.44 0 1 1 16.62 0 a8.31 11.44 0 1 1 -16.62 0Z M-2.68 0 a2.68 6.43 0 1 0 5.36 0 a2.68 6.43 0 1 0 -5.36 0Z"/></g><g fill="#90d1c9" stroke="#90d1c9" stroke-width="0.8" stroke-linejoin="round"><path d="M1268.90 834.01 L1283.65 834.01 L1282.31 839.19 L1273.01 846.16 L1281.06 846.16 L1279.89 850.99 L1264.26 850.99 L1265.60 845.72 L1274.98 838.83 L1267.65 838.83Z M1295.35 834.01 L1310.10 834.01 L1308.76 839.19 L1299.47 846.16 L1307.51 846.16 L1306.35 850.99 L1290.71 850.99 L1292.05 845.72 L1301.43 838.83 L1294.10 838.83Z M1323.68 834.10 L1328.78 834.10 L1328.42 835.80 L1331.46 834.01 L1335.21 834.01 L1333.96 839.01 L1330.21 839.01 L1327.53 840.98 L1324.85 850.99 L1319.22 850.99Z M1348.26 830.08 L1354.96 830.08 L1353.89 834.01 L1357.20 834.01 L1356.03 838.30 L1352.73 838.30 L1350.58 846.34 L1354.16 846.34 L1352.91 851.35 L1346.65 851.35 L1343.79 849.20 L1346.47 838.30 L1343.97 838.30 L1345.13 834.01 L1347.37 834.01Z M1399.22 830.24 L1411.01 829.17 L1405.68 851.15 L1399.07 851.15 L1402.95 835.41 L1397.78 835.41Z M1422.79 844.53 L1430.02 844.53 L1428.80 851.15 L1421.50 851.15Z M1445.99 833.89 L1458.46 833.89 L1457.32 838.90 L1450.55 838.90 L1449.03 840.43 L1447.89 845.60 L1449.03 846.81 L1455.42 846.81 L1454.28 851.83 L1444.01 851.83 L1441.73 849.25 L1444.01 836.62Z M1470.17 833.89 L1483.86 833.89 L1487.05 836.32 L1483.56 851.15 L1477.47 851.15 L1480.06 839.51 L1478.99 838.60 L1475.19 838.60 L1472.15 851.15 L1466.06 851.15Z"/><path transform="translate(1373.73 840.26) skewX(-15)" d="M-8.31 0 a8.31 11.44 0 1 1 16.62 0 a8.31 11.44 0 1 1 -16.62 0Z M-2.68 0 a2.68 6.43 0 1 0 5.36 0 a2.68 6.43 0 1 0 -5.36 0Z"/></g></svg>
</body></html>
